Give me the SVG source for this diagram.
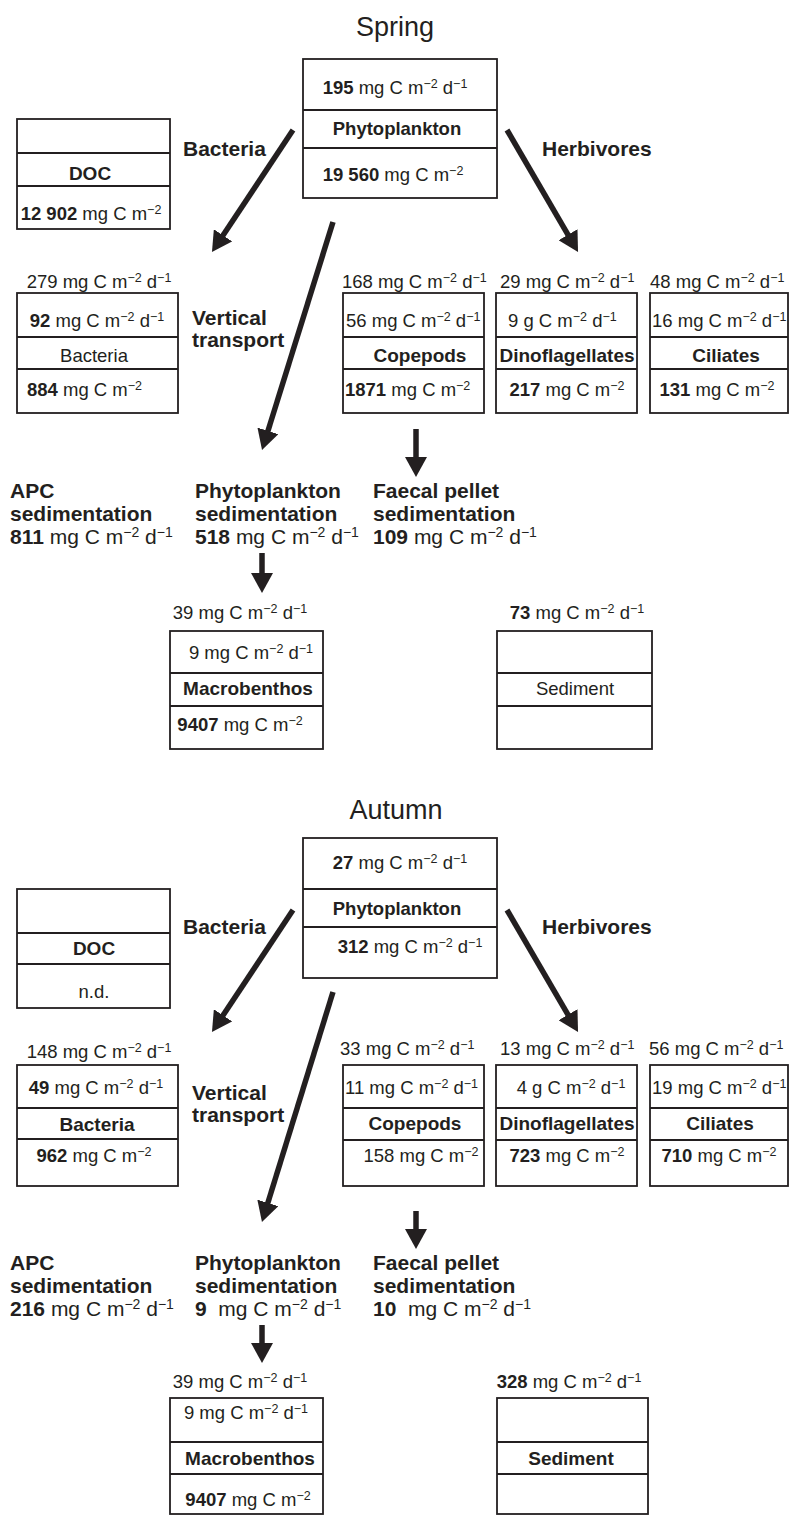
<svg xmlns="http://www.w3.org/2000/svg" width="790" height="1515" viewBox="0 0 790 1515">
<defs>
<style>
text{font-family:"Liberation Sans",Arial,Helvetica,sans-serif;font-size:18.5px;fill:#231f20}
.b{font-weight:bold}
.bl{font-weight:bold;font-size:19px}
.lbl{font-weight:bold;font-size:21px}
.big{font-size:21px}
.ttl{font-size:27px}
.sup{font-size:12.5px;baseline-shift:6px}
.sup2{font-size:14px;baseline-shift:7px}
.box{fill:none;stroke:#231f20;stroke-width:1.8}
.ln{stroke:#231f20;stroke-width:1.8}
.arr{stroke:#231f20;stroke-width:5.5;fill:none;marker-end:url(#ah)}
</style>
<marker id="ah" viewBox="0 0 20 22" markerWidth="20" markerHeight="22" refX="8" refY="11" orient="auto" markerUnits="userSpaceOnUse">
<path d="M0,0 L20,11 L0,22 Z" fill="#231f20"/>
</marker>
</defs>
<rect width="790" height="1515" fill="#fff"/>

<!-- ================= SPRING ================= -->
<g id="title-spring"><text class="ttl" x="395" y="36" text-anchor="middle">Spring</text></g>

<g id="phyto-spring">
<rect class="box" x="303" y="59" width="194" height="139"/>
<line class="ln" x1="303" y1="110" x2="497" y2="110"/>
<line class="ln" x1="303" y1="148" x2="497" y2="148"/>
<text x="395" y="94" text-anchor="middle"><tspan class="b">195</tspan> mg C m<tspan class="sup">−2</tspan> d<tspan class="sup">−1</tspan></text>
<text class="b" font-size="17" x="397" y="135" text-anchor="middle">Phytoplankton</text>
<text x="393" y="181" text-anchor="middle"><tspan class="b">19 560</tspan> mg C m<tspan class="sup">−2</tspan></text>
</g>

<g id="doc-spring">
<rect class="box" x="17" y="119" width="153" height="110"/>
<line class="ln" x1="17" y1="153" x2="170" y2="153"/>
<line class="ln" x1="17" y1="186" x2="170" y2="186"/>
<text class="bl" x="90" y="180" text-anchor="middle">DOC</text>
<text x="91" y="220" text-anchor="middle"><tspan class="b">12 902</tspan> mg C m<tspan class="sup">−2</tspan></text>
</g>

<g id="label-bacteria-spring"><text class="lbl" x="183" y="156">Bacteria</text></g>
<g id="label-herbivores-spring"><text class="lbl" x="542" y="156">Herbivores</text></g>
<g id="label-vertical-spring"><text class="lbl" x="192" y="325">Vertical</text><text class="lbl" x="192" y="347">transport</text></g>

<g id="bacteria-spring">
<text x="99" y="288" text-anchor="middle">279 mg C m<tspan class="sup">−2</tspan> d<tspan class="sup">−1</tspan></text>
<rect class="box" x="17" y="293" width="161" height="120"/>
<line class="ln" x1="17" y1="337" x2="178" y2="337"/>
<line class="ln" x1="17" y1="369" x2="178" y2="369"/>
<text x="97" y="327" text-anchor="middle"><tspan class="b">92</tspan> mg C m<tspan class="sup">−2</tspan> d<tspan class="sup">−1</tspan></text>
<text x="94" y="362" text-anchor="middle">Bacteria</text>
<text x="27" y="396"><tspan class="b">884</tspan> mg C m<tspan class="sup">−2</tspan></text>
</g>

<g id="copepods-spring">
<text x="342" y="288">168 mg C m<tspan class="sup">−2</tspan> d<tspan class="sup">−1</tspan></text>
<text x="346" y="327">56 mg C m<tspan class="sup">−2</tspan> d<tspan class="sup">−1</tspan></text>
<rect class="box" x="343" y="293" width="141" height="120"/>
<line class="ln" x1="343" y1="337" x2="484" y2="337"/>
<line class="ln" x1="343" y1="369" x2="484" y2="369"/>
<text class="bl" x="420" y="362" text-anchor="middle">Copepods</text>
<text x="345" y="396"><tspan class="b">1871</tspan> mg C m<tspan class="sup">−2</tspan></text>
</g>

<g id="dino-spring">
<text x="500" y="288">29 mg C m<tspan class="sup">−2</tspan> d<tspan class="sup">−1</tspan></text>
<rect class="box" x="496" y="293" width="141" height="120"/>
<line class="ln" x1="496" y1="337" x2="637" y2="337"/>
<line class="ln" x1="496" y1="369" x2="637" y2="369"/>
<text x="508" y="327">9 g C m<tspan class="sup">−2</tspan> d<tspan class="sup">−1</tspan></text>
<text class="bl" x="567" y="362" text-anchor="middle">Dinoflagellates</text>
<text x="567" y="396" text-anchor="middle"><tspan class="b">217</tspan> mg C m<tspan class="sup">−2</tspan></text>
</g>

<g id="ciliates-spring">
<text x="650" y="288">48 mg C m<tspan class="sup">−2</tspan> d<tspan class="sup">−1</tspan></text>
<rect class="box" x="650" y="293" width="138" height="120"/>
<line class="ln" x1="650" y1="337" x2="788" y2="337"/>
<line class="ln" x1="650" y1="369" x2="788" y2="369"/>
<text x="652" y="327">16 mg C m<tspan class="sup">−2</tspan> d<tspan class="sup">−1</tspan></text>
<text class="bl" x="726" y="362" text-anchor="middle">Ciliates</text>
<text x="717" y="396" text-anchor="middle"><tspan class="b">131</tspan> mg C m<tspan class="sup">−2</tspan></text>
</g>

<g id="apc-spring">
<text class="lbl" x="10" y="498">APC</text>
<text class="lbl" x="10" y="521">sedimentation</text>
<text class="big" x="10" y="544"><tspan class="b">811</tspan> mg C m<tspan class="sup2">−2</tspan> d<tspan class="sup2">−1</tspan></text>
</g>
<g id="phytosed-spring">
<text class="lbl" x="195" y="498">Phytoplankton</text>
<text class="lbl" x="195" y="521">sedimentation</text>
<text class="big" x="195" y="544"><tspan class="b">518</tspan> mg C m<tspan class="sup2">−2</tspan> d<tspan class="sup2">−1</tspan></text>
</g>
<g id="faecal-spring">
<text class="lbl" x="373" y="498">Faecal pellet</text>
<text class="lbl" x="373" y="521">sedimentation</text>
<text class="big" x="373" y="544"><tspan class="b">109</tspan> mg C m<tspan class="sup2">−2</tspan> d<tspan class="sup2">−1</tspan></text>
</g>

<g id="macrobenthos-spring">
<text x="240" y="619" text-anchor="middle">39 mg C m<tspan class="sup">−2</tspan> d<tspan class="sup">−1</tspan></text>
<rect class="box" x="170" y="631" width="153" height="118"/>
<line class="ln" x1="170" y1="673" x2="323" y2="673"/>
<line class="ln" x1="170" y1="706" x2="323" y2="706"/>
<text x="251" y="659" text-anchor="middle">9 mg C m<tspan class="sup">−2</tspan> d<tspan class="sup">−1</tspan></text>
<text class="bl" x="248" y="695" text-anchor="middle">Macrobenthos</text>
<text x="240" y="731" text-anchor="middle"><tspan class="b">9407</tspan> mg C m<tspan class="sup">−2</tspan></text>
</g>

<g id="sediment-spring">
<text x="577" y="619" text-anchor="middle"><tspan class="b">73</tspan> mg C m<tspan class="sup">−2</tspan> d<tspan class="sup">−1</tspan></text>
<rect class="box" x="497" y="631" width="155" height="118"/>
<line class="ln" x1="497" y1="673" x2="652" y2="673"/>
<line class="ln" x1="497" y1="706" x2="652" y2="706"/>
<text x="575" y="695" text-anchor="middle">Sediment</text>
</g>

<!-- ================= AUTUMN ================= -->
<g id="title-autumn"><text class="ttl" x="396" y="819" text-anchor="middle">Autumn</text></g>

<g id="phyto-autumn">
<rect class="box" x="303" y="838" width="194" height="140"/>
<line class="ln" x1="303" y1="889" x2="497" y2="889"/>
<line class="ln" x1="303" y1="927" x2="497" y2="927"/>
<text x="400" y="869" text-anchor="middle"><tspan class="b">27</tspan> mg C m<tspan class="sup">−2</tspan> d<tspan class="sup">−1</tspan></text>
<text class="b" font-size="17" x="397" y="915" text-anchor="middle">Phytoplankton</text>
<text x="410" y="953" text-anchor="middle"><tspan class="b">312</tspan> mg C m<tspan class="sup">−2</tspan> d<tspan class="sup">−1</tspan></text>
</g>

<g id="doc-autumn">
<rect class="box" x="17" y="889" width="153" height="119"/>
<line class="ln" x1="17" y1="933" x2="170" y2="933"/>
<line class="ln" x1="17" y1="964" x2="170" y2="964"/>
<text class="bl" x="94" y="955" text-anchor="middle">DOC</text>
<text x="94" y="998" text-anchor="middle">n.d.</text>
</g>

<g id="label-bacteria-autumn"><text class="lbl" x="183" y="934">Bacteria</text></g>
<g id="label-herbivores-autumn"><text class="lbl" x="542" y="934">Herbivores</text></g>
<g id="label-vertical-autumn"><text class="lbl" x="192" y="1100">Vertical</text><text class="lbl" x="192" y="1122">transport</text></g>

<g id="bacteria-autumn">
<text x="99" y="1058" text-anchor="middle">148 mg C m<tspan class="sup">−2</tspan> d<tspan class="sup">−1</tspan></text>
<rect class="box" x="17" y="1065" width="161" height="121"/>
<line class="ln" x1="17" y1="1108" x2="178" y2="1108"/>
<line class="ln" x1="17" y1="1139" x2="178" y2="1139"/>
<text x="96" y="1094" text-anchor="middle"><tspan class="b">49</tspan> mg C m<tspan class="sup">−2</tspan> d<tspan class="sup">−1</tspan></text>
<text class="bl" x="97" y="1131" text-anchor="middle">Bacteria</text>
<text x="94" y="1162" text-anchor="middle"><tspan class="b">962</tspan> mg C m<tspan class="sup">−2</tspan></text>
</g>

<g id="copepods-autumn">
<text x="340" y="1055">33 mg C m<tspan class="sup">−2</tspan> d<tspan class="sup">−1</tspan></text>
<rect class="box" x="343" y="1065" width="141" height="121"/>
<line class="ln" x1="343" y1="1108" x2="484" y2="1108"/>
<line class="ln" x1="343" y1="1140" x2="484" y2="1140"/>
<text x="345" y="1094">11 mg C m<tspan class="sup">−2</tspan> d<tspan class="sup">−1</tspan></text>
<text class="bl" x="415" y="1130" text-anchor="middle">Copepods</text>
<text x="421" y="1162" text-anchor="middle">158 mg C m<tspan class="sup">−2</tspan></text>
</g>

<g id="dino-autumn">
<text x="500" y="1055">13 mg C m<tspan class="sup">−2</tspan> d<tspan class="sup">−1</tspan></text>
<rect class="box" x="496" y="1065" width="141" height="121"/>
<line class="ln" x1="496" y1="1108" x2="637" y2="1108"/>
<line class="ln" x1="496" y1="1140" x2="637" y2="1140"/>
<text x="571" y="1094" text-anchor="middle">4 g C m<tspan class="sup">−2</tspan> d<tspan class="sup">−1</tspan></text>
<text class="bl" x="567" y="1130" text-anchor="middle">Dinoflagellates</text>
<text x="567" y="1162" text-anchor="middle"><tspan class="b">723</tspan> mg C m<tspan class="sup">−2</tspan></text>
</g>

<g id="ciliates-autumn">
<text x="649" y="1055">56 mg C m<tspan class="sup">−2</tspan> d<tspan class="sup">−1</tspan></text>
<rect class="box" x="650" y="1065" width="138" height="121"/>
<line class="ln" x1="650" y1="1108" x2="788" y2="1108"/>
<line class="ln" x1="650" y1="1140" x2="788" y2="1140"/>
<text x="652" y="1094">19 mg C m<tspan class="sup">−2</tspan> d<tspan class="sup">−1</tspan></text>
<text class="bl" x="720" y="1130" text-anchor="middle">Ciliates</text>
<text x="719" y="1162" text-anchor="middle"><tspan class="b">710</tspan> mg C m<tspan class="sup">−2</tspan></text>
</g>

<g id="apc-autumn">
<text class="lbl" x="10" y="1270">APC</text>
<text class="lbl" x="10" y="1293">sedimentation</text>
<text class="big" x="10" y="1316"><tspan class="b">216</tspan> mg C m<tspan class="sup2">−2</tspan> d<tspan class="sup2">−1</tspan></text>
</g>
<g id="phytosed-autumn">
<text class="lbl" x="195" y="1270">Phytoplankton</text>
<text class="lbl" x="195" y="1293">sedimentation</text>
<text class="big" x="195" y="1316" xml:space="preserve"><tspan class="b">9</tspan>  mg C m<tspan class="sup2">−2</tspan> d<tspan class="sup2">−1</tspan></text>
</g>
<g id="faecal-autumn">
<text class="lbl" x="373" y="1270">Faecal pellet</text>
<text class="lbl" x="373" y="1293">sedimentation</text>
<text class="big" x="373" y="1316" xml:space="preserve"><tspan class="b">10</tspan>  mg C m<tspan class="sup2">−2</tspan> d<tspan class="sup2">−1</tspan></text>
</g>

<g id="macrobenthos-autumn">
<text x="240" y="1388" text-anchor="middle">39 mg C m<tspan class="sup">−2</tspan> d<tspan class="sup">−1</tspan></text>
<rect class="box" x="170" y="1398" width="153" height="116"/>
<line class="ln" x1="170" y1="1442" x2="323" y2="1442"/>
<line class="ln" x1="170" y1="1474" x2="323" y2="1474"/>
<text x="246" y="1419" text-anchor="middle">9 mg C m<tspan class="sup">−2</tspan> d<tspan class="sup">−1</tspan></text>
<text class="bl" x="250" y="1465" text-anchor="middle">Macrobenthos</text>
<text x="248" y="1506" text-anchor="middle"><tspan class="b">9407</tspan> mg C m<tspan class="sup">−2</tspan></text>
</g>

<g id="sediment-autumn">
<text x="569" y="1388" text-anchor="middle"><tspan class="b">328</tspan> mg C m<tspan class="sup">−2</tspan> d<tspan class="sup">−1</tspan></text>
<rect class="box" x="497" y="1398" width="151" height="116"/>
<line class="ln" x1="497" y1="1442" x2="648" y2="1442"/>
<line class="ln" x1="497" y1="1474" x2="648" y2="1474"/>
<text class="bl" x="571" y="1465" text-anchor="middle">Sediment</text>
</g>

<g id="connectors">
<line class="arr" x1="293" y1="130" x2="218.6" y2="242"/>
<line class="arr" x1="507" y1="130" x2="572" y2="241.6"/>
<line class="arr" x1="333" y1="222" x2="265.6" y2="438.5"/>
<line class="arr" x1="416" y1="429" x2="416" y2="465"/>
<line class="arr" x1="262" y1="553" x2="262" y2="581"/>
<line class="arr" x1="293" y1="910" x2="218.6" y2="1022"/>
<line class="arr" x1="507" y1="910" x2="572" y2="1021.6"/>
<line class="arr" x1="333" y1="992" x2="265.5" y2="1210.5"/>
<line class="arr" x1="416" y1="1211" x2="416" y2="1237"/>
<line class="arr" x1="262" y1="1325" x2="262" y2="1351"/>
</g>
</svg>
